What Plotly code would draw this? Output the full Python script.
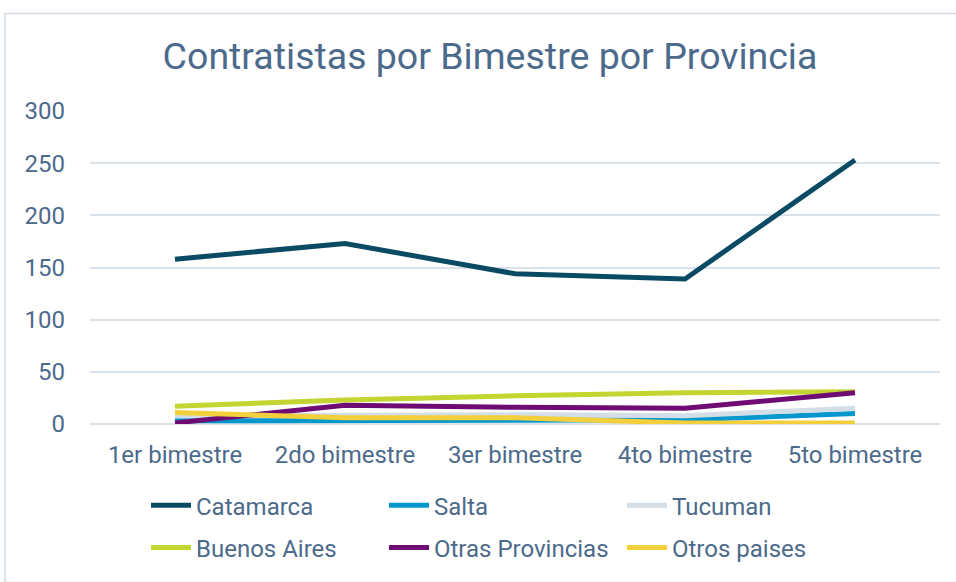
import plotly.graph_objects as go

# Bimestres y contratistas por provincia
bimestres = ["1er bimestre", "2do bimestre", "3er bimestre", "4to bimestre", "5to bimestre"]
catamarca = [158, 173, 144, 139, 253]
salta = [3, 3, 3, 4, 10]
tucuman = [8, 9, 9, 8, 15]
buenos_aires = [17, 23, 27, 30, 31]
otras_provincias = [1, 18, 16, 15, 30]
otros_paises = [11, 6, 6, 1, 1]

series = [
    ("Catamarca", catamarca, "#0B4A63", "legend"),
    ("Salta", salta, "#0497CB", "legend"),
    ("Tucuman", tucuman, "#D3DEE7", "legend"),
    ("Buenos Aires", buenos_aires, "#C3D530", "legend2"),
    ("Otras Provincias", otras_provincias, "#6F0C74", "legend2"),
    ("Otros paises", otros_paises, "#F3CF3C", "legend2"),
]

text_color = "#4C6A8B"
grid_color = "#D9E1EA"
font_family = "Roboto"

top, bottom = 111, 153
plot_h = 582 - top - bottom
plot_bottom = top + plot_h

fig = go.Figure()
for name, values, color, leg in series:
    fig.add_trace(go.Scatter(
        x=bimestres, y=values, name=name, mode="lines",
        line=dict(color=color, width=5, shape="linear"),
        legend=leg,
    ))

legend_common = dict(
    orientation="h", xref="paper", yref="paper",
    xanchor="left", yanchor="middle",
    font=dict(family=font_family, size=24, color=text_color),
    entrywidth=183, entrywidthmode="pixels",
    bgcolor="rgba(0,0,0,0)", itemwidth=40,
)

fig.update_layout(
    width=956, height=582,
    margin=dict(l=90, r=16, t=top, b=bottom),
    paper_bgcolor="white", plot_bgcolor="white",
    font=dict(family=font_family, color=text_color),
    title=dict(
        text="Contratistas por Bimestre por Provincia",
        x=(490 - 90) / 850, xref="paper", xanchor="center",
        y=1 - 56 / 582, yref="container", yanchor="middle",
        font=dict(family=font_family, size=37.5, color=text_color),
    ),
    xaxis=dict(
        type="category", range=[-0.5, 4.5], automargin=False,
        showgrid=False, zeroline=False, showline=False,
        tickfont=dict(family=font_family, size=24, color=text_color),
        ticks="", ticklabelstandoff=14,
    ),
    yaxis=dict(
        range=[0, 300], dtick=50, automargin=False,
        showgrid=True, gridcolor=grid_color, gridwidth=1.5,
        zeroline=True, zerolinecolor=grid_color, zerolinewidth=1.5, showline=False,
        tickfont=dict(family=font_family, size=24, color=text_color),
        ticks="", ticklabelstandoff=24,
    ),
    legend=dict(legend_common, x=(146 - 90) / 850, y=-(512 - plot_bottom) / plot_h),
    legend2=dict(legend_common, x=(146 - 90) / 850, y=-(555 - plot_bottom) / plot_h),
    showlegend=True,
    shapes=[dict(
        type="rect", xref="paper", yref="paper",
        x0=(5 - 90) / 850, x1=(960 - 90) / 850,
        y0=-(590 - plot_bottom) / plot_h, y1=1 + (top - 12) / plot_h,
        line=dict(color="#D3DBE5", width=1.5), fillcolor="rgba(0,0,0,0)",
        layer="below",
    )],
)

fig.write_html("out.html")
